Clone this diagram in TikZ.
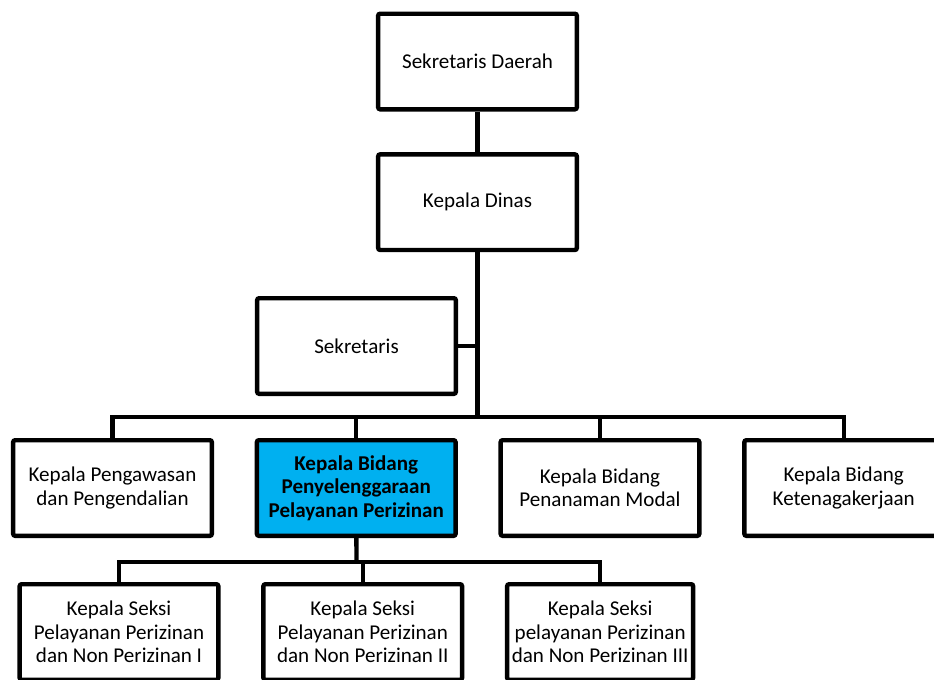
\documentclass[tikz,border=0pt]{standalone}
\usepackage{fontspec}
\setmainfont{Carlito}
\usepackage{tikz}
\usetikzlibrary{positioning}
\definecolor{bidang}{HTML}{00B0F0}

\begin{document}
\begin{tikzpicture}[x=0.75pt, y=-0.75pt, node distance=30.5pt,
		unit/.style={draw, line width=3.3pt, rounded corners=1.5pt, fill=white, align=center,
			minimum width=149pt, minimum height=71.7pt, inner sep=0pt,
			font=\fontsize{15.8}{17.6}\selectfont},
		focus/.style={unit, fill=bidang, font=\bfseries\fontsize{15.8}{17.6}\selectfont},
		link/.style={line width=3.3pt}]
	
	\useasboundingbox (0,0) rectangle (934,679);
	\clip (0,0) rectangle (934,679);
	
	\node[unit] (sekda) at (477.5,61.5) {Sekretaris Daerah};
	\node[unit] (kadis) [below=of sekda] {Kepala Dinas};
	\node[unit] (sekr) at (356.5,346) {Sekretaris};
	
	\coordinate (bar1) at (477.5,417);
	\coordinate (bar2) at (356.5,562);
	
	\node[unit] (awas) at (112.5,488) {Kepala Pengawasan\\dan Pengendalian};
	\node[focus] (izin) [right=of awas] {Kepala Bidang\\Penyelenggaraan\\Pelayanan Perizinan};
	\node[unit] (modal) [right=of izin] {Kepala Bidang\\Penanaman Modal};
	\node[unit] (kerja) [right=of modal] {Kepala Bidang\\Ketenagakerjaan};
	
	\node[unit] (seksiA) at (119,632) {Kepala Seksi\\Pelayanan Perizinan\\dan Non Perizinan I};
	\node[unit] (seksiB) [right=of seksiA] {Kepala Seksi\\Pelayanan Perizinan\\dan Non Perizinan II};
	\node[unit, minimum width=139.5pt] (seksiC) [right=of seksiB] {Kepala Seksi\\pelayanan Perizinan\\dan Non Perizinan III};
	
	\draw[link] (sekda) -- (kadis);
	\draw[link] (kadis) -- (bar1);
	\draw[link] (sekr) -- (sekr.east -| bar1);
	\draw[link] (awas) |- (kerja.north |- bar1) -- (kerja);
	\draw[link] (izin) -- (izin.north |- bar1);
	\draw[link] (modal) -- (modal.north |- bar1);
	
	\draw[link] (izin) -- (bar2);
	\draw[link] (seksiA) |- (seksiC.north |- bar2) -- (seksiC);
	\draw[link] (seksiB) -- (seksiB.north |- bar2);
\end{tikzpicture}
\end{document}
